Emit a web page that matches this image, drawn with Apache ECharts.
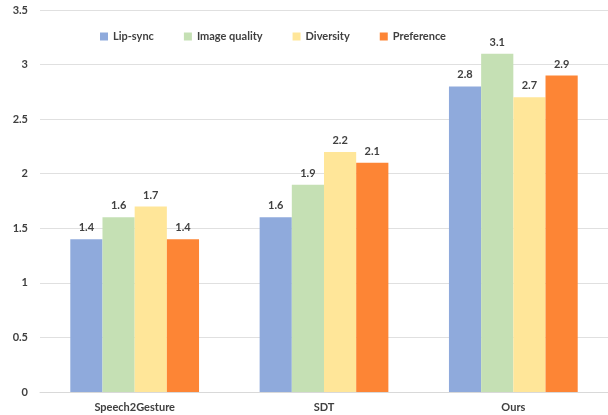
<!DOCTYPE html>
<html>
<head>
<meta charset="utf-8">
<script src="https://cdn.jsdelivr.net/npm/echarts@6/dist/echarts.min.js"></script>
<style>
  html, body { margin: 0; padding: 0; background: #fff; }
  #chart { width: 608px; height: 415px; }
</style>
</head>
<body>
<div id="chart"></div>
<script>
const categories = ['Speech2Gesture', 'SDT', 'Ours']
const seriesNames = ['Lip-sync', 'Image quality', 'Diversity', 'Preference']
const lipSync = [1.4, 1.6, 2.8]
const imageQuality = [1.6, 1.9, 3.1]
const diversity = [1.7, 2.2, 2.7]
const preference = [1.4, 2.1, 2.9]
const colors = ['#8faadc', '#c5e0b4', '#ffe699', '#fd8535']

const values = [lipSync, imageQuality, diversity, preference]
const font = 'Lato, "Open Sans", sans-serif'
const textColor = '#404040'

const chart = echarts.init(document.getElementById('chart'))

chart.setOption({
  animation: false,
  textStyle: { fontFamily: font },
  legend: {
    top: 26, left: 95,
    itemWidth: 8, itemHeight: 8, itemGap: 30,
    icon: 'rect',
    textStyle: { color: textColor, fontWeight: 'bold', fontSize: 11, fontFamily: font }
  },
  grid: { left: 40, right: 0, top: 10, bottom: 23 },
  xAxis: {
    type: 'category', data: categories,
    axisTick: { show: false },
    axisLine: { lineStyle: { color: '#d9d9d9' } },
    axisLabel: { color: textColor, fontWeight: 'bold', fontSize: 11, margin: 10, fontFamily: font }
  },
  yAxis: {
    type: 'value', min: 0, max: 3.5, interval: 0.5,
    axisLine: { show: false },
    axisTick: { show: false },
    axisLabel: { color: textColor, fontWeight: 'bold', fontSize: 11, margin: 12, fontFamily: font },
    splitLine: { lineStyle: { color: '#e0e0e0' } }
  },
  series: seriesNames.map((name, i) => ({
    name, type: 'bar', data: values[i],
    barGap: '0%', barCategoryGap: '32%',
    itemStyle: { color: colors[i] },
    label: {
      show: true, position: 'top', distance: 6,
      color: textColor, fontWeight: 'bold', fontSize: 11, fontFamily: font
    }
  }))
})
</script>
</body>
</html>
